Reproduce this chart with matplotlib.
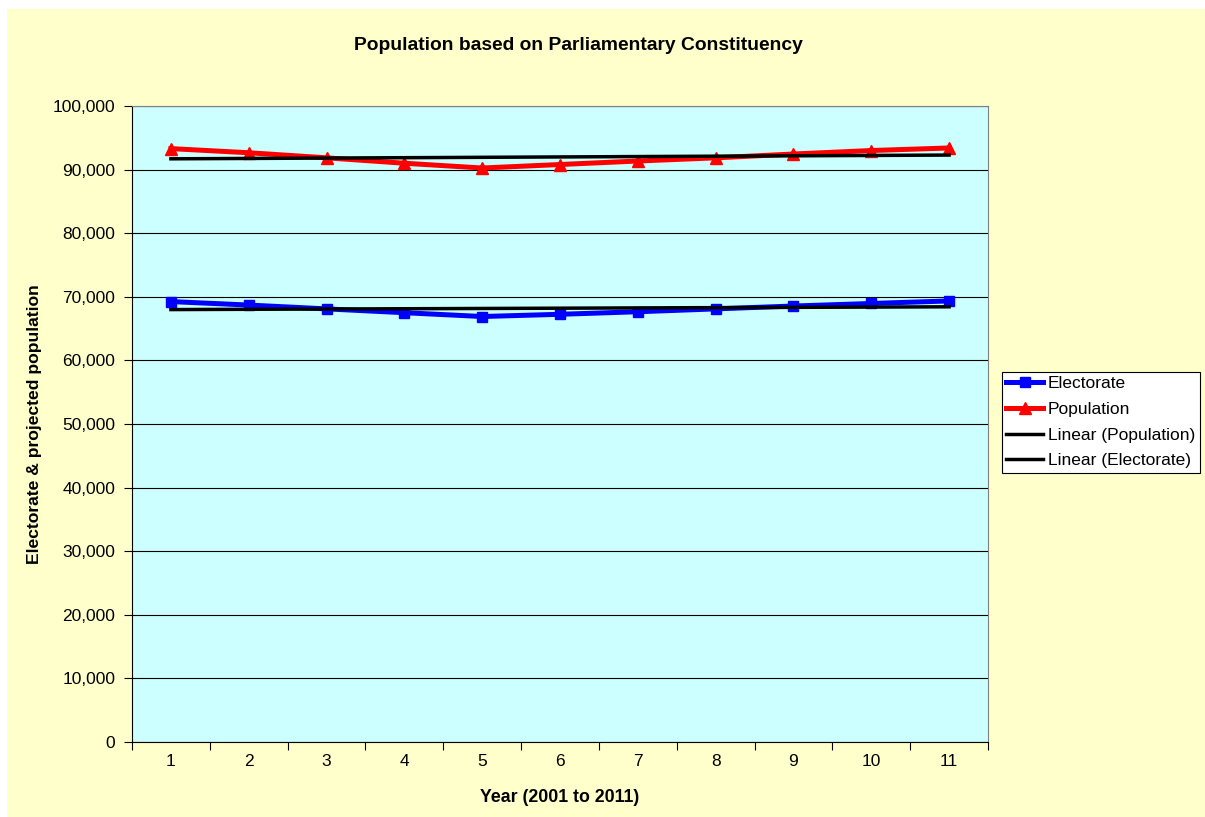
import numpy as np
import matplotlib
matplotlib.use("Agg")
import matplotlib.pyplot as plt
from matplotlib.ticker import FuncFormatter, FixedLocator

plt.rcParams['font.family'] = ['Liberation Sans', 'DejaVu Sans']

years = [1, 2, 3, 4, 5, 6, 7, 8, 9, 10, 11]
electorate = [69250, 68700, 68100, 67500, 66900, 67250, 67650, 68100, 68550, 68950, 69350]
population = [93300, 92650, 91850, 91000, 90250, 90800, 91350, 91850, 92450, 93000, 93400]

W, H = 1205, 817
fig = plt.figure(figsize=(W / 100, H / 100), dpi=100, facecolor='white')
# chart area (yellow) leaves a thin white strip at top and left
fig.patches.append(plt.Rectangle((7 / W, 0), 1 - 7 / W, 1 - 9 / H, transform=fig.transFigure,
                                 facecolor='#FFFFCC', edgecolor='none', zorder=-10))

ax = fig.add_axes([132 / W, 1 - 742 / H, (988 - 132) / W, (742 - 106) / H])
ax.set_facecolor('#CCFFFF')

x = np.array(years)
ax.plot(x, electorate, color='#0000FF', lw=3.6, marker='s', ms=7.5, label='Electorate', zorder=3)
ax.plot(x, population, color='#FF0000', lw=3.6, marker='^', ms=9, label='Population', zorder=3)

# linear trend lines
p_fit = np.polyfit(x, population, 1)
e_fit = np.polyfit(x, electorate, 1)
ax.plot(x, np.polyval(p_fit, x), color='black', lw=2.5, label='Linear (Population)', zorder=4)
ax.plot(x, np.polyval(e_fit, x), color='black', lw=2.5, label='Linear (Electorate)', zorder=4)

ax.set_xlim(0.5, 11.5)
ax.set_ylim(0, 100000)
ax.set_yticks(np.arange(0, 100001, 10000))
ax.yaxis.set_major_formatter(FuncFormatter(lambda v, p: f"{int(v):,}"))
ax.grid(axis='y', color='black', lw=0.8)
ax.set_axisbelow(True)

# category axis: labels centred, ticks between categories
ax.xaxis.set_major_locator(FixedLocator(np.arange(0.5, 11.6, 1)))
ax.xaxis.set_minor_locator(FixedLocator(x))
ax.set_xticklabels([])
ax.set_xticklabels([str(v) for v in years], minor=True)
ax.tick_params(axis='x', which='major', length=6, direction='out', color='black')
ax.tick_params(axis='x', which='minor', length=0, labelsize=12.5, pad=9)
ax.tick_params(axis='y', length=6, direction='out', labelsize=12.5, pad=6)

for s in ['top', 'right']:
    ax.spines[s].set_color('#808080')
for s in ['left', 'bottom']:
    ax.spines[s].set_color('black')

fig.text(560 / W, 1 - 797 / H, 'Year (2001 to 2011)', ha='center', va='center',
         fontsize=12.8, fontweight='bold')
fig.text(35 / W, 1 - 424 / H, 'Electorate & projected population', ha='center', va='center',
         rotation=90, fontsize=12.6, fontweight='bold')
fig.text(578 / W, 1 - 46 / H, 'Population based on Parliamentary Constituency',
         ha='center', va='center', fontsize=13.9, fontweight='bold')

leg = fig.legend(loc='upper left', bbox_to_anchor=(1002 / W, 1 - 372 / H), fontsize=12.5,
                 frameon=True, fancybox=False, edgecolor='black', facecolor='white',
                 framealpha=1, handlelength=2.1, borderpad=0.25, labelspacing=0.6,
                 handletextpad=0.3, borderaxespad=0)
leg.get_frame().set_linewidth(0.8)

fig.savefig('out.png', dpi=100, facecolor=fig.get_facecolor())
